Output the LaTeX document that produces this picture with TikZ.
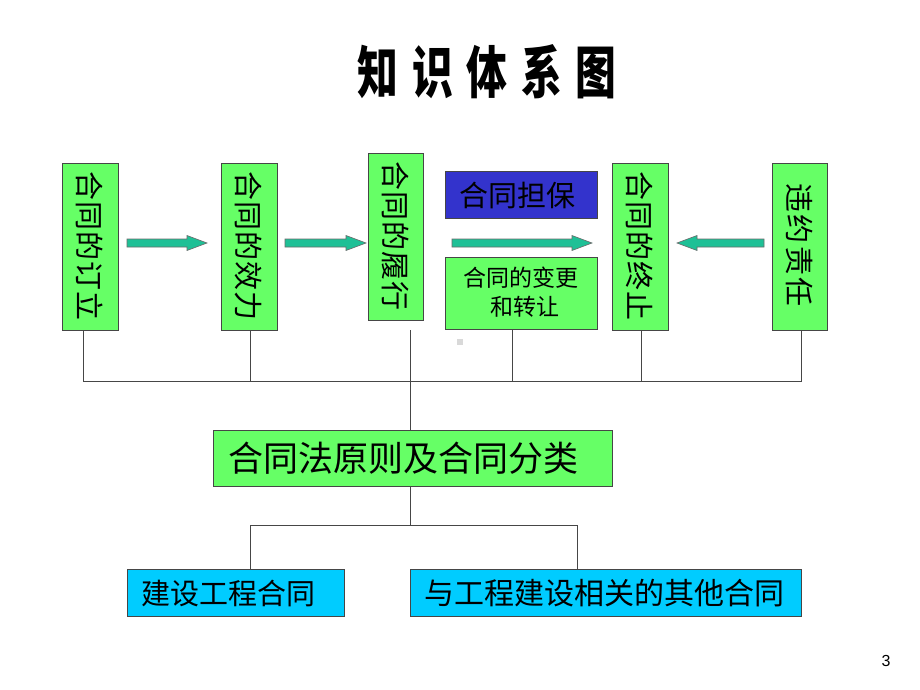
\documentclass[tikz,border=0pt]{standalone}
\usepackage{fontspec}
\newfontfamily\cjk{Noto Sans CJK SC}
\setmainfont{Liberation Sans}
\definecolor{boxgreen}{RGB}{102,255,102}
\definecolor{boxblue}{RGB}{51,51,204}
\definecolor{boxcyan}{RGB}{0,204,255}
\definecolor{arrowteal}{RGB}{30,192,150}
\definecolor{linegray}{RGB}{70,70,70}
\tikzset{
  gbox/.style={draw=linegray, line width=0.9pt, fill=boxgreen},
  bbox/.style={draw=linegray, line width=0.9pt, fill=boxblue},
  cbox/.style={draw=linegray, line width=0.9pt, fill=boxcyan},
  vtext/.style={rotate=-90, font=\cjk\fontsize{29}{29}\selectfont\addfontfeatures{LetterSpace=4}, inner sep=0pt},
  htext/.style={font=\cjk\fontsize{29}{29}\selectfont, inner sep=0pt},
  conn/.style={draw=linegray, line width=0.8pt},
  blockarrow/.style={draw=linegray!80, line width=0.6pt, fill=arrowteal}
}
\newcommand\blkarrow[3]{% x1, y, x2
  \pgfmathsetmacro\dirsign{(#3>#1)?1:-1}
  \pgfmathsetmacro\hx{#3-\dirsign*20}
  \path[blockarrow] (#1,#2-4) -- (\hx,#2-4) -- (\hx,#2-7.5) -- (#3,#2) -- (\hx,#2+7.5) -- (\hx,#2+4) -- (#1,#2+4) -- cycle;
}
\begin{document}
\begin{tikzpicture}[x=1pt,y=-1pt]
\useasboundingbox (0,0) rectangle (920,690);
\fill[white] (0,0) rectangle (920,690);

% title
\node[font=\cjk\bfseries\fontsize{48}{48}\selectfont, xscale=0.85, yscale=1.18, transform shape, inner sep=0pt] (title) at (487,72)
  {知\hspace{16pt}识\hspace{16pt}体\hspace{16pt}系\hspace{16pt}图};

% top boxes
\path[gbox] (62,163) rectangle (118,330);
\node[vtext] (b1) at (90,246) {合同的订立};
\path[gbox] (221,163) rectangle (277,330);
\node[vtext] (b2) at (249,246) {合同的效力};
\path[gbox] (368,153) rectangle (423,320);
\node[vtext] (b3) at (395.5,236) {合同的履行};
\path[bbox] (445,171) rectangle (597,218);
\node[htext] (b4) at (517,195) {合同担保};
\path[gbox] (445,257) rectangle (597,329);
\node[font=\cjk\fontsize{23}{29}\selectfont, align=center, inner sep=0pt] (b5) at (521,292) {合同的变更\\\hspace{8pt}和转让};
\path[gbox] (612,163) rectangle (668,330);
\node[vtext] (b6) at (640,246) {合同的终止};
\path[gbox] (772,163) rectangle (827,330);
\node[vtext] (b7) at (799.5,245) {\addfontfeatures{LetterSpace=8}违约责任};

% block arrows
\blkarrow{127}{243}{207}
\blkarrow{285}{243}{366}
\blkarrow{452}{243}{592}
\blkarrow{764}{243}{677}

% small gray mark
\fill[gray!30] (457,339) rectangle (463,345);

% middle box
\path[gbox] (213,430) rectangle (612,486);
\node[font=\cjk\fontsize{35}{35}\selectfont, inner sep=0pt] (mid) at (403,458) {合同法原则及合同分类};

% bottom boxes
\path[cbox] (127,569) rectangle (344,616);
\node[htext] (c1) at (228,593) {建设工程合同};
\path[cbox] (410,569) rectangle (801,616);
\node[font=\cjk\fontsize{30}{30}\selectfont, inner sep=0pt] (c2) at (604,593) {与工程建设相关的其他合同};

% connectors
\draw[conn] (83,330) -- (83,381) -- (801,381) -- (801,330);
\draw[conn] (250,330) -- (250,381);
\draw[conn] (410,330) -- (410,430);
\draw[conn] (512,329) -- (512,381);
\draw[conn] (641,330) -- (641,381);
\draw[conn] (410,486) -- (410,525);
\draw[conn] (250,569) -- (250,525) -- (577,525) -- (577,569);

% page number
\node[font=\fontsize{16}{16}\selectfont, inner sep=0pt] (pn) at (886,661) {3};
\end{tikzpicture}
\end{document}
